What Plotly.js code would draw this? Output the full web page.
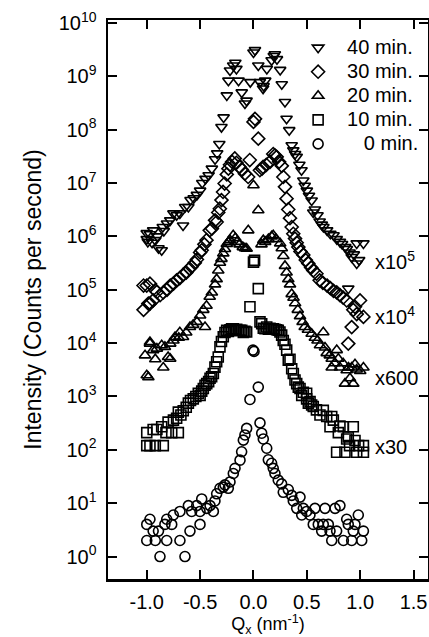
<!DOCTYPE html>
<html><head><meta charset="utf-8">
<script src="https://cdn.plot.ly/plotly-3.0.1.min.js"></script>
<style>html,body{margin:0;padding:0;background:#fff}#chart{width:429px;height:637px}</style>
</head><body><div id="chart"></div>
<script>
// 40 min (displayed, x10^5)
const x40 = [-1.00,-1.00,-0.99,-0.97,-0.95,-0.94,-0.92,-0.90,-0.89,-0.86,-0.85,-0.84,-0.81,-0.78,-0.75,-0.72,-0.69,-0.66,-0.64,-0.61,-0.59,-0.56,-0.53,-0.50,-0.48,-0.45,-0.42,-0.39,-0.36,-0.34,-0.32,-0.30,-0.28,-0.25,-0.235,-0.22,-0.19,-0.17,-0.16,-0.14,-0.11,-0.08,-0.065,-0.03,0.00,0.014,0.045,0.06,0.09,0.095,0.11,0.125,0.17,0.19,0.20,0.22,0.25,0.265,0.295,0.31,0.335,0.358,0.373,0.39,0.405,0.43,0.45,0.467,0.48,0.50,0.52,0.545,0.56,0.575,0.60,0.62,0.64,0.655,0.69,0.72,0.75,0.78,0.81,0.83,0.86,0.875,0.888,0.90,0.92,0.94,0.967,0.967,0.99,1.03];
const y40 = [8.9e5,1.15e6,7.9e5,1.1e6,7.6e5,1.3e6,8.5e5,1.0e6,6.0e5,5.5e5,1.5e6,1.26e6,1.74e6,2.0e6,2.7e6,2.5e6,2.7e6,1.6e6,3.55e6,3.55e6,4.8e6,5.2e6,6.0e6,7.2e6,1.0e7,1.2e7,1.4e7,1.86e7,2.8e7,3.6e7,5.4e7,1.12e8,1.7e8,4.4e8,8.3e8,1.29e9,1.6e9,1.8e9,1.38e9,8.3e8,5.0e8,3.1e8,3.5e8,7.8e8,2.8e9,3.1e9,1.6e9,7.8e8,5.9e8,6.6e8,8.3e8,1.38e9,2.0e9,2.4e9,2.6e9,2.1e9,1.32e9,7.1e8,3.3e8,1.6e8,9.8e7,5.1e7,4.1e7,3.5e7,3.1e7,2.2e7,1.74e7,1.12e7,8.9e6,7.2e6,5.8e6,4.7e6,2.8e6,3.2e6,2.5e6,1.9e6,1.66e6,1.5e6,1.3e6,1.12e6,1.05e6,8.9e5,7.9e5,7.2e5,6.3e5,5.8e5,1.05e5,5.0e5,4.1e5,4.6e5,3.1e5,7.4e5,3.6e5,7.4e5];
// 30 min (x10^4)
const x30 = [-1.03,-1.03,-1.00,-0.985,-0.97,-0.97,-0.94,-0.92,-0.905,-0.875,-0.845,-0.81,-0.78,-0.75,-0.72,-0.69,-0.66,-0.63,-0.60,-0.58,-0.55,-0.53,-0.50,-0.485,-0.46,-0.44,-0.41,-0.39,-0.36,-0.345,-0.33,-0.315,-0.30,-0.285,-0.27,-0.25,-0.235,-0.22,-0.20,-0.175,-0.16,-0.13,-0.11,-0.08,-0.05,-0.035,0.00,0.014,0.045,0.06,0.08,0.09,0.12,0.155,0.185,0.20,0.217,0.24,0.265,0.28,0.295,0.31,0.326,0.342,0.358,0.373,0.389,0.405,0.42,0.44,0.467,0.49,0.514,0.54,0.56,0.59,0.62,0.65,0.69,0.72,0.75,0.78,0.81,0.84,0.873,0.888,0.92,0.935,0.951,0.967,0.998,1.03];
const y30 = [4.2e4,1.2e5,1.2e5,5.5e4,1.3e5,5.5e4,6.3e4,9.8e4,9.1e4,7.9e4,8.9e4,1.0e5,1.2e5,1.3e5,1.5e5,1.66e5,1.9e5,2.1e5,2.5e5,2.7e5,3.2e5,3.7e5,5.0e5,5.5e5,7.1e5,8.5e5,1.3e6,1.4e6,2.0e6,1.86e6,2.8e6,3.3e6,4.8e6,6.8e6,9.8e6,1.45e7,1.86e7,2.2e7,2.5e7,2.9e7,2.4e7,2.0e7,1.8e7,1.5e7,1.3e7,2.7e7,1.4e8,1.6e8,6.8e7,1.74e7,1.86e7,2.0e7,2.2e7,2.5e7,3.5e7,3.3e7,3.1e7,2.5e7,2.1e7,1.3e7,8.5e6,5.1e6,3.2e6,2.2e6,1.5e6,1.12e6,9.1e5,7.6e5,6.3e5,5.2e5,4.5e5,3.6e5,3.1e5,2.6e5,2.3e5,2.0e5,1.5e5,1.35e5,1.2e5,1.07e5,9.5e4,8.9e4,7.9e4,7.1e4,6.3e4,9.8e3,2.0e4,4.2e4,4.8e4,3.5e4,6.3e4,3.1e4];
// 20 min (x600)
const x20 = [-1.016,-1.00,-0.985,-0.97,-0.97,-0.94,-0.92,-0.905,-0.86,-0.845,-0.83,-0.80,-0.78,-0.78,-0.75,-0.735,-0.70,-0.69,-0.66,-0.63,-0.595,-0.565,-0.53,-0.50,-0.47,-0.454,-0.44,-0.41,-0.39,-0.36,-0.345,-0.33,-0.314,-0.30,-0.283,-0.267,-0.25,-0.235,-0.22,-0.19,-0.17,-0.155,-0.13,-0.10,-0.08,-0.064,-0.049,0.00,0.045,0.075,0.092,0.11,0.14,0.17,0.185,0.21,0.25,0.265,0.28,0.295,0.31,0.326,0.342,0.358,0.375,0.39,0.415,0.436,0.46,0.48,0.51,0.545,0.575,0.60,0.623,0.654,0.67,0.686,0.715,0.733,0.733,0.76,0.78,0.795,0.81,0.84,0.857,0.873,0.89,0.904,0.92,0.935,0.951,0.967,1.00,1.03];
const y20 = [5.9e3,2.5e3,2.3e3,9.8e3,1.05e4,7.4e3,5.0e3,7.9e3,9.1e3,3.5e3,8.5e3,5.5e3,5.1e3,9.8e3,1.12e4,1.3e4,1.26e4,1.6e4,1.3e4,1.58e4,2.0e4,2.2e4,2.5e4,3.3e4,4.2e4,2.0e4,5.0e4,7.4e4,8.9e4,1.26e5,1.58e5,2.3e5,3.2e5,3.8e5,4.8e5,5.8e5,7.2e5,7.8e5,8.5e5,1.05e6,9.3e5,7.9e5,7.1e5,6.3e5,6.0e5,5.9e5,1.3e6,9.1e6,3.1e6,7.1e5,8.5e5,7.9e5,8.9e5,1.0e6,1.05e6,8.9e5,7.4e5,6.0e5,4.3e5,2.8e5,2.1e5,1.58e5,1.26e5,8.3e4,7.1e4,5.6e4,4.2e4,3.2e4,2.5e4,2.0e4,1.78e4,1.5e4,1.26e4,1.12e4,9.1e3,1.6e4,8.3e3,6.5e3,5.9e3,5.1e3,3.5e3,4.2e3,7.4e3,5.1e3,3.5e3,4.2e3,1.74e3,3.1e3,3.5e3,2.2e3,3.5e3,1.74e3,4.0e3,3.2e3,3.0e3,3.5e3];
// 10 min (x30)
const x10 = [-1.00,-1.00,-0.97,-0.94,-0.92,-0.905,-0.86,-0.845,-0.82,-0.80,-0.766,-0.75,-0.72,-0.704,-0.704,-0.68,-0.658,-0.63,-0.61,-0.59,-0.564,-0.54,-0.517,-0.50,-0.485,-0.47,-0.454,-0.438,-0.42,-0.407,-0.392,-0.376,-0.361,-0.345,-0.33,-0.314,-0.30,-0.283,-0.267,-0.251,-0.235,-0.22,-0.205,-0.189,-0.17,-0.157,-0.14,-0.126,-0.11,-0.095,-0.08,-0.064,-0.033,0.00,0.01,0.045,0.061,0.077,0.092,0.108,0.124,0.14,0.155,0.17,0.185,0.20,0.217,0.232,0.248,0.264,0.279,0.295,0.311,0.326,0.342,0.358,0.373,0.389,0.405,0.42,0.436,0.452,0.467,0.498,0.498,0.514,0.53,0.545,0.56,0.59,0.623,0.654,0.686,0.717,0.733,0.748,0.779,0.795,0.81,0.842,0.857,0.873,0.888,0.90,0.935,0.951,0.967,0.985,1.03,1.03];
const y10 = [210,120,120,240,120,240,270,120,210,330,210,360,390,210,510,450,540,630,750,840,900,1000,1150,1050,1260,1410,1620,1740,1900,2200,2340,2700,3550,4470,5500,8500,10700,13200,15800,17400,16600,17800,18600,18600,17400,18200,17000,17400,17400,15800,16600,16200,4.8e4,3.3e5,3.55e5,1.05e5,2.5e4,2.3e4,1.9e4,18600,2.0e4,18200,1.9e4,18600,18600,18200,17800,17400,16200,14100,11200,9500,7400,4800,5000,3300,2700,2040,1740,1500,1410,1050,1200,1150,900,750,800,690,650,560,450,550,420,270,420,360,90,210,280,270,90,160,175,120,270,150,90,120,120,90];
// 0 min
const x0 = [-1.00,-1.00,-0.97,-0.94,-0.92,-0.89,-0.876,-0.83,-0.813,-0.813,-0.766,-0.751,-0.689,-0.689,-0.642,-0.61,-0.595,-0.579,-0.532,-0.501,-0.501,-0.485,-0.438,-0.407,-0.376,-0.361,-0.345,-0.314,-0.283,-0.267,-0.236,-0.22,-0.189,-0.173,-0.126,-0.111,-0.095,-0.08,-0.064,-0.033,-0.005,0.005,0.045,0.061,0.077,0.092,0.124,0.139,0.17,0.185,0.201,0.232,0.264,0.279,0.326,0.358,0.373,0.405,0.436,0.452,0.467,0.498,0.529,0.56,0.576,0.607,0.639,0.654,0.67,0.701,0.717,0.733,0.764,0.779,0.81,0.842,0.873,0.888,0.92,0.935,0.951,0.982,1.014,1.03];
const y0 = [4,2,5,3,2,3,1,4,5,2,4,6,7,2,1,9,3,7,9,7,4,12,8,9,7,11,15,19,20,22,19,25,36,45,64,92,152,190,252,880,7400,7000,1500,320,205,160,107,65,56,45,36,27,23,16,18,14,11,8,13,6,8,7,6,4,8,4,3,4,8,4,3,2,8,3,9,2,5,4,2,3,4,6,2,3];

const seriesNames = ['40 min.', '30 min.', '20 min.', '10 min.', '\u2007 0 min.'];
const seriesSymbols = ['triangle-down-open', 'diamond-open', 'triangle-up-open', 'square-open', 'circle-open'];
const scaleLabels = ['x10<sup>5</sup>', 'x10<sup>4</sup>', 'x600', 'x30'];
const scaleLabelLevels = [5.55, 4.52, 3.34, 2.05];
const yTickVals = [1,10,100,1e3,1e4,1e5,1e6,1e7,1e8,1e9,1e10];
const yTickText = ['10<sup>0</sup>','10<sup>1</sup>','10<sup>2</sup>','10<sup>3</sup>','10<sup>4</sup>','10<sup>5</sup>','10<sup>6</sup>','10<sup>7</sup>','10<sup>8</sup>','10<sup>9</sup>','10<sup>10</sup>'];
const xTickVals = [-1.0,-0.5,0.0,0.5,1.0,1.5];
const xTickText = ['-1.0','-0.5','0.0','0.5','1.0','1.5'];

const xs = [x40, x30, x20, x10, x0];
const ys = [y40, y30, y20, y10, y0];
const FONT = '"Liberation Sans", Arial, Helvetica, sans-serif';

const traces = xs.map((x, i) => ({
  type: 'scatter', mode: 'markers', x: x, y: ys[i],
  name: '<span style="font-size:20px">' + seriesNames[i] + '</span>',
  marker: {symbol: seriesSymbols[i], size: 10, color: '#000', line: {color: '#000', width: 1.6}},
  cliponaxis: false
}));

const annotations = scaleLabels.map((t, i) => ({
  text: t, x: 1.115, y: scaleLabelLevels[i], xref: 'x', yref: 'y',
  xanchor: 'left', yanchor: 'middle', showarrow: false,
  font: {family: FONT, size: 20, color: '#000'}
}));

const layout = {
  width: 429, height: 637,
  margin: {l: 108, r: 1, t: 20, b: 58},
  paper_bgcolor: '#fff', plot_bgcolor: '#fff',
  font: {family: FONT, size: 20, color: '#000'},
  showlegend: true,
  legend: {x: 0.566, y: 0.981, xanchor: 'left', yanchor: 'top', bgcolor: 'rgba(0,0,0,0)',
           font: {family: FONT, size: 16.2, color: '#000'}, itemwidth: 48, tracegroupgap: 0},
  xaxis: {
    range: [-1.363, 1.635], tickvals: xTickVals, ticktext: xTickText,
    ticks: 'inside', ticklen: 9, tickwidth: 2, tickcolor: '#000',
    showline: true, linewidth: 2.5, linecolor: '#000', mirror: 'ticks',
    showgrid: false, zeroline: false, ticklabelstandoff: 3,
    tickfont: {family: FONT, size: 20},
    title: {text: 'Q<sub>x</sub> (nm<sup>-1</sup>)', font: {family: FONT, size: 18}, standoff: 10}
  },
  yaxis: {
    type: 'log', range: [-0.421, 10.056], tickvals: yTickVals, ticktext: yTickText,
    ticks: 'inside', ticklen: 9, tickwidth: 2, tickcolor: '#000',
    showline: true, linewidth: 2.5, linecolor: '#000', mirror: 'ticks',
    showgrid: false, zeroline: false, ticklabelstandoff: 5,
    tickfont: {family: FONT, size: 20},
    title: {text: 'Intensity (Counts per second)', font: {family: FONT, size: 23}, standoff: 11}
  },
  annotations: annotations
};

Plotly.newPlot('chart', traces, layout, {displayModeBar: false, staticPlot: true});
</script>
</body></html>
